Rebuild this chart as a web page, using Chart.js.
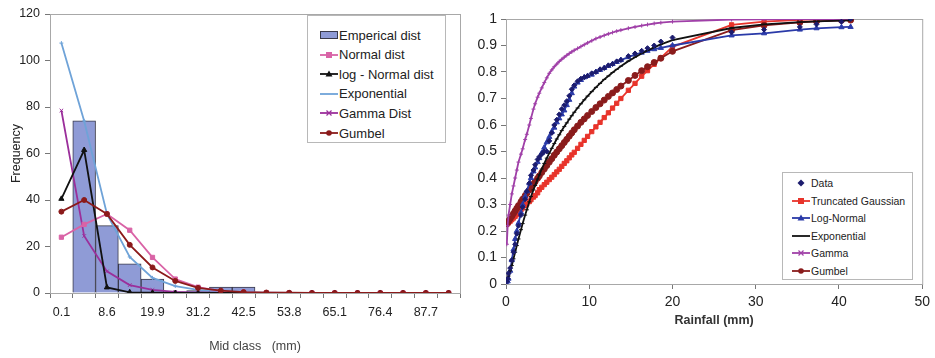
<!DOCTYPE html>
<html>
<head>
<meta charset="utf-8">
<script src="https://cdn.jsdelivr.net/npm/chart.js@4.4.1/dist/chart.umd.min.js"></script>
<style>
  body { margin: 0; background: #fff; font-family: "Liberation Sans", Arial, sans-serif; }
  .panel { position: absolute; top: 0; height: 358px; }
  #leftPanel { left: 0; width: 470px; }
  #rightPanel { left: 470px; width: 465px; }
  canvas { display: block; }
  .legend { position: absolute; background: #fff; border: 1px solid #b8b8b8; color: #222; }
  .legend .item { position: absolute; left: 0; white-space: nowrap; display: flex; align-items: center; }
  .legend svg { display: block; }
</style>
</head>
<body>
<div class="panel" id="leftPanel"><canvas id="histChart" width="470" height="358"></canvas><div class="legend" id="leftLegend"></div></div>
<div class="panel" id="rightPanel"><canvas id="cdfChart" width="465" height="358"></canvas><div class="legend" id="rightLegend"></div></div>
<script>
// left panel - frequency of mid classes
const midClass = ['0.1', '2.9', '8.6', '14.2', '19.9', '25.5', '31.2', '36.8', '42.5', '48.1', '53.8', '59.4', '65.1', '70.7', '76.4', '82.0', '87.7', '93.3'];
const empirical = [0, 74, 29, 12.5, 6, 0.5, 1, 2.5, 2.5, 0, 0, 0, 0, 0, 0, 0, 0, 0];
const normalDist = [24, 29.5, 34, 27, 15.3, 6, 2.5, 0.8, 0.3, 0.1, 0, 0, 0, 0, 0, 0, 0, 0];
const logNormalDist = [40.5, 61.5, 2.4, 0.3, 0.1, 0, 0, 0, 0, 0, 0, 0, 0, 0, 0, 0, 0, 0];
const exponentialDist = [107.5, 74, 34, 15.5, 6.5, 3, 1.3, 0.6, 0.3, 0.1, 0, 0, 0, 0, 0, 0, 0, 0];
const gammaDist = [78.5, 24.5, 9.3, 3.4, 1.3, 0.5, 0.2, 0.1, 0, 0, 0, 0, 0, 0, 0, 0, 0, 0];
const gumbelDist = [35, 40, 34, 20.7, 11, 5.2, 2.2, 1, 0.4, 0.2, 0.1, 0, 0, 0, 0, 0, 0, 0];

// right panel - cumulative distributions
const rainfall = [
  0.1, 0.2, 0.3, 0.5, 0.7, 0.9, 1.1, 1.3, 1.5, 1.8,
  2.0, 2.3, 2.5, 2.8, 3.0, 3.3, 3.5, 3.8, 4.0, 4.3,
  4.6, 4.9, 5.2, 5.5, 5.8, 6.1, 6.4, 6.7, 7.0, 7.3,
  7.6, 7.9, 8.2, 8.6, 9.0, 9.4, 9.8, 10.3, 10.8, 11.3,
  11.8, 12.3, 12.8, 13.3, 13.8, 14.7, 15.5, 16.3, 17.0, 17.8,
  18.6, 20.0, 27.1, 31.0, 35.3, 37.3, 40.3, 41.4
];
const cdfData = [
  0.01, 0.02, 0.04, 0.06, 0.09, 0.12, 0.15, 0.19, 0.22, 0.26,
  0.29, 0.32, 0.35, 0.38, 0.41, 0.43, 0.45, 0.47, 0.48, 0.49,
  0.50, 0.50, 0.54, 0.57, 0.60, 0.62, 0.64, 0.66, 0.675, 0.69,
  0.71, 0.735, 0.75, 0.765, 0.775, 0.78, 0.785, 0.795, 0.80, 0.81,
  0.815, 0.825, 0.83, 0.84, 0.845, 0.86, 0.87, 0.88, 0.89, 0.90,
  0.915, 0.93, 0.95, 0.96, 0.97, 0.98, 0.99, 1.0
];
const cdfTruncGauss = [
  0.225, 0.228, 0.231, 0.237, 0.243, 0.249, 0.255, 0.262, 0.27, 0.28,
  0.287, 0.296, 0.302, 0.311, 0.318, 0.328, 0.334, 0.344, 0.356, 0.365,
  0.375, 0.384, 0.394, 0.403, 0.413, 0.423, 0.433, 0.444, 0.455, 0.465,
  0.476, 0.487, 0.497, 0.512, 0.527, 0.542, 0.557, 0.575, 0.593, 0.61,
  0.628, 0.646, 0.664, 0.682, 0.70, 0.731, 0.757, 0.784, 0.805, 0.829,
  0.853, 0.895, 0.978, 0.99, 0.997, 0.999, 1.0, 1.0
];
const cdfLogNormal = [
  0.0, 0.01, 0.02, 0.05, 0.09, 0.13, 0.17, 0.2, 0.23, 0.27,
  0.3, 0.33, 0.35, 0.38, 0.4, 0.425, 0.44, 0.46, 0.475, 0.495,
  0.515, 0.535, 0.555, 0.575, 0.59, 0.61, 0.625, 0.64, 0.655, 0.675,
  0.695, 0.72, 0.745, 0.76, 0.77, 0.78, 0.785, 0.79, 0.80, 0.808,
  0.815, 0.823, 0.83, 0.838, 0.845, 0.856, 0.866, 0.873, 0.88, 0.886,
  0.891, 0.90, 0.938, 0.946, 0.96, 0.965, 0.969, 0.97
];
const cdfExponential = [
  0.01, 0.02, 0.03, 0.05, 0.07, 0.095, 0.12, 0.145, 0.17, 0.205,
  0.228, 0.26, 0.28, 0.31, 0.33, 0.355, 0.372, 0.396, 0.412, 0.434,
  0.455, 0.475, 0.494, 0.512, 0.53, 0.547, 0.563, 0.579, 0.594, 0.608,
  0.622, 0.635, 0.648, 0.664, 0.68, 0.695, 0.709, 0.726, 0.742, 0.757,
  0.772, 0.785, 0.798, 0.81, 0.822, 0.841, 0.856, 0.87, 0.881, 0.893,
  0.904, 0.92, 0.966, 0.98, 0.988, 0.991, 0.994, 0.995
];
const cdfGamma = [
  0.15, 0.22, 0.26, 0.3, 0.34, 0.37, 0.4, 0.43, 0.46, 0.49,
  0.51, 0.545, 0.565, 0.6, 0.625, 0.66, 0.68, 0.705, 0.72, 0.74,
  0.76, 0.778, 0.795, 0.808, 0.82, 0.83, 0.84, 0.848, 0.856, 0.863,
  0.87, 0.876, 0.882, 0.889, 0.896, 0.903, 0.91, 0.918, 0.926, 0.932,
  0.938, 0.944, 0.949, 0.954, 0.958, 0.965, 0.97, 0.975, 0.979, 0.983,
  0.986, 0.99, 0.998, 0.999, 1.0, 1.0, 1.0, 1.0
];
const cdfGumbel = [
  0.228, 0.232, 0.237, 0.246, 0.256, 0.266, 0.276, 0.286, 0.296, 0.31,
  0.32, 0.333, 0.342, 0.355, 0.364, 0.377, 0.386, 0.399, 0.408, 0.421,
  0.434, 0.447, 0.46, 0.473, 0.486, 0.498, 0.51, 0.522, 0.534, 0.546,
  0.558, 0.57, 0.582, 0.596, 0.61, 0.623, 0.636, 0.651, 0.666, 0.68,
  0.694, 0.708, 0.721, 0.734, 0.747, 0.768, 0.787, 0.805, 0.82, 0.836,
  0.852, 0.878, 0.958, 0.976, 0.987, 0.991, 0.995, 0.996
];

Chart.defaults.font.family = '"Liberation Sans", Arial, sans-serif';
Chart.defaults.color = '#222';
Chart.defaults.animation = false;

// light gray frame round the plot area, like Excel
const plotFrame = {
  id: 'plotFrame',
  beforeDatasetsDraw(chart) {
    const a = chart.chartArea;
    const ctx = chart.ctx;
    ctx.save();
    ctx.strokeStyle = '#a8a8a8';
    ctx.lineWidth = 1;
    ctx.strokeRect(a.left + 0.5, a.top + 0.5, a.right - a.left, a.bottom - a.top);
    ctx.restore();
  }
};

function lineSet(label, data, color, style, radius, order) {
  return {
    type: 'line', label, data, order,
    borderColor: color, backgroundColor: color,
    borderWidth: 1.8, tension: 0,
    pointStyle: style, pointRadius: radius,
    pointBorderColor: color, pointBackgroundColor: color, pointBorderWidth: 1
  };
}

const histCtx = document.getElementById('histChart');
if (histCtx) {
  new Chart(histCtx, {
    data: {
      labels: midClass,
      datasets: [
        { type: 'bar', label: 'Emperical dist', data: empirical, order: 10,
          backgroundColor: '#8f9bd6', borderColor: '#3a3a4a', borderWidth: 1,
          barPercentage: 1, categoryPercentage: 1 },
        lineSet('Normal dist', normalDist, '#d963a6', 'rect', 3, 3),
        lineSet('log - Normal dist', logNormalDist, '#111111', 'triangle', 3, 2),
        lineSet('Exponential', exponentialDist, '#6fa3d8', 'cross', 2, 5),
        lineSet('Gamma Dist', gammaDist, '#9b2f9b', 'crossRot', 2.5, 4),
        lineSet('Gumbel', gumbelDist, '#8b1a1a', 'circle', 2.5, 1)
      ]
    },
    options: {
      responsive: false,
      layout: { padding: { left: 5, right: 10, top: 14, bottom: 0 } },
      plugins: { legend: { display: false }, tooltip: { enabled: false } },
      scales: {
        x: {
          type: 'category', offset: true,
          grid: { offset: true, drawOnChartArea: false, tickLength: 5, color: '#777' },
          border: { color: '#777' },
          ticks: { autoSkip: false, maxRotation: 0, padding: 7, font: { size: 12.5 },
            callback: (v, i) => i % 2 === 0 ? midClass[i] : '' },
          title: { display: true, text: 'Mid class   (mm)', font: { size: 12.5 }, color: '#444', padding: { top: 4, bottom: 4 } },
          afterFit: s => { s.height = 65; }
        },
        y: {
          min: 0, max: 120,
          grid: { drawOnChartArea: false, tickLength: 5, color: '#777' },
          border: { color: '#777' },
          ticks: { stepSize: 20, padding: 5, font: { size: 12.5 } },
          title: { display: true, text: 'Frequency', font: { size: 12.5 }, padding: { top: 4, bottom: 4 } },
          afterFit: s => { s.width = 45; }
        }
      }
    },
    plugins: [plotFrame]
  });
}

const cdfCtx = document.getElementById('cdfChart');
const pts = ys => rainfall.map((x, i) => ({ x, y: ys[i] }));
if (cdfCtx) {
  const dataSet = lineSet('Data', pts(cdfData), '#1c1c6e', 'rectRot', 2.5, 0);
  dataSet.showLine = false;
  new Chart(cdfCtx, {
    type: 'line',
    data: {
      datasets: [
        dataSet,
        lineSet('Truncated Gaussian', pts(cdfTruncGauss), '#e8342b', 'rect', 3, 5),
        lineSet('Log-Normal', pts(cdfLogNormal), '#2a3aa8', 'triangle', 3, 2),
        lineSet('Exponential', pts(cdfExponential), '#111111', 'line', 2, 1),
        lineSet('Gamma', pts(cdfGamma), '#a040a8', 'cross', 2, 3),
        lineSet('Gumbel', pts(cdfGumbel), '#8a1c1c', 'circle', 3, 4)
      ]
    },
    options: {
      responsive: false,
      layout: { padding: { left: 0, right: 6, top: 19, bottom: 0 } },
      plugins: { legend: { display: false }, tooltip: { enabled: false } },
      scales: {
        x: {
          type: 'linear', min: 0, max: 50,
          grid: { drawOnChartArea: false, tickLength: 5, color: '#777' },
          border: { color: '#777' },
          ticks: { stepSize: 10, padding: 5, font: { size: 14 } },
          title: { display: true, text: 'Rainfall (mm)', font: { size: 12.5, weight: 'bold' }, color: '#333', padding: { top: 30, bottom: 30 } },
          afterFit: s => { s.height = 74; }
        },
        y: {
          min: 0, max: 1,
          grid: { drawOnChartArea: false, tickLength: 5, color: '#777' },
          border: { color: '#777' },
          ticks: { stepSize: 0.1, padding: 4, font: { size: 14 }, callback: v => String(+v.toFixed(1)) },
          afterFit: s => { s.width = 36; }
        }
      }
    },
    plugins: [plotFrame]
  });
}

// legends as plain html boxes inside the plot areas
function symbol(color, marker, line) {
  let s = '<svg width="20" height="10" viewBox="0 0 20 10">';
  if (marker === 'bar') {
    return s + '<rect x="1.5" y="1.5" width="17" height="7" fill="#8f9bd6" stroke="#3a3a4a"/></svg>';
  }
  if (line) s += `<line x1="1" y1="5" x2="19" y2="5" stroke="${color}" stroke-width="1.8"/>`;
  if (marker === 'rect') s += `<rect x="7" y="2" width="6" height="6" fill="${color}"/>`;
  if (marker === 'tri') s += `<polygon points="10,1.5 13.5,7.5 6.5,7.5" fill="${color}"/>`;
  if (marker === 'circle') s += `<circle cx="10" cy="5" r="2.8" fill="${color}"/>`;
  if (marker === 'diamond') s += `<polygon points="10,1.5 13.5,5 10,8.5 6.5,5" fill="${color}"/>`;
  if (marker === 'cross') s += `<path d="M7.5 2.5L12.5 7.5M12.5 2.5L7.5 7.5" stroke="${color}" stroke-width="1.2"/>`;
  return s + '</svg>';
}

function buildLegend(id, box, items, fontSize) {
  const el = document.getElementById(id);
  el.style.left = box.left + 'px';
  el.style.top = box.top + 'px';
  el.style.width = box.width + 'px';
  el.style.height = box.height + 'px';
  el.style.fontSize = fontSize + 'px';
  items.forEach((it, i) => {
    const row = document.createElement('div');
    row.className = 'item';
    row.style.top = (box.first + i * box.step - 8) + 'px';
    row.style.height = '16px';
    row.style.left = box.symLeft + 'px';
    row.innerHTML = symbol(it[1], it[2], it[3]) + '<span>' + it[0] + '</span>';
    el.appendChild(row);
  });
}

buildLegend('leftLegend', { left: 307, top: 15, width: 137, height: 126, first: 19, step: 19.6, symLeft: 11 }, [
  ['Emperical dist', '#8f9bd6', 'bar', false],
  ['Normal dist', '#d963a6', 'rect', true],
  ['log - Normal dist', '#111111', 'tri', true],
  ['Exponential', '#6fa3d8', 'none', true],
  ['Gamma Dist', '#9b2f9b', 'cross', true],
  ['Gumbel', '#8b1a1a', 'circle', true]
], 13);

buildLegend('rightLegend', { left: 312, top: 172, width: 129, height: 106, first: 10, step: 17.6, symLeft: 8 }, [
  ['Data', '#1c1c6e', 'diamond', false],
  ['Truncated Gaussian', '#e8342b', 'rect', true],
  ['Log-Normal', '#2a3aa8', 'tri', true],
  ['Exponential', '#111111', 'none', true],
  ['Gamma', '#a040a8', 'cross', true],
  ['Gumbel', '#8a1c1c', 'circle', true]
], 10.5);
</script>
</body>
</html>
